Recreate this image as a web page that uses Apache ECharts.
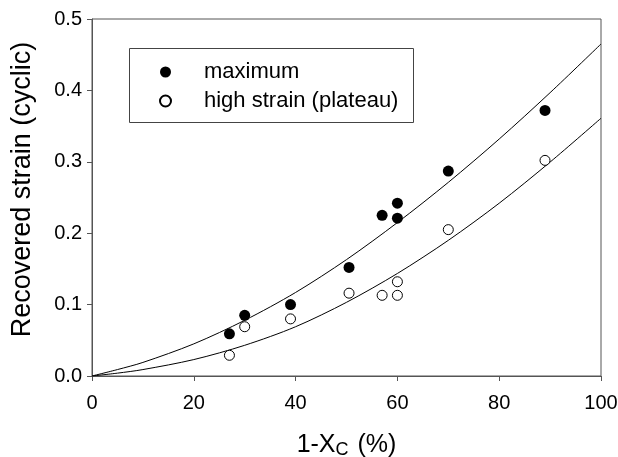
<!DOCTYPE html>
<html>
<head>
<meta charset="utf-8">
<script src="https://cdn.jsdelivr.net/npm/echarts@6/dist/echarts.min.js"></script>
<style>
  html, body { margin: 0; padding: 0; background: #fff; }
  #chart { width: 618px; height: 457px; }
</style>
</head>
<body>
<div id="chart"></div>
<script>
// Crystallinity deficit 1-Xc (%) for each specimen
const xcMax = [27, 30, 39, 50.5, 57, 60, 60, 70, 89];
// Recovered cyclic strain at the maximum
const strainMax = [0.059, 0.085, 0.100, 0.152, 0.225, 0.242, 0.221, 0.287, 0.372];

const xcPlateau = [27, 30, 39, 50.5, 57, 60, 60, 70, 89];
// Recovered cyclic strain at high strain (plateau)
const strainPlateau = [0.029, 0.069, 0.080, 0.116, 0.113, 0.132, 0.113, 0.205, 0.302];

// Fitted trend curves, sampled along the x axis
const fitX = [0, 5, 10, 20, 30, 40, 50, 60, 70, 80, 90, 100];
const fitMax = [0, 0.009, 0.019, 0.045, 0.078, 0.117, 0.163, 0.2149, 0.2712, 0.3319, 0.3968, 0.465];
const fitPlateau = [0, 0.004, 0.009, 0.023, 0.043, 0.069, 0.1032, 0.1436, 0.190, 0.242, 0.2996, 0.361];

const xTicks = [0, 20, 40, 60, 80, 100];
const yTicks = [0.0, 0.1, 0.2, 0.3, 0.4, 0.5];

const zip = (a, b) => a.map((v, i) => [v, b[i]]);
const FONT = '"Liberation Sans", Arial, sans-serif';

const chart = echarts.init(document.getElementById('chart'), null, { renderer: 'canvas' });

chart.setOption({
  animation: false,
  backgroundColor: '#ffffff',
  textStyle: { fontFamily: FONT, color: '#000' },
  grid: {
    left: 92, right: 17, top: 19, bottom: 81,
    outerBoundsMode: 'none',
    containLabel: false,
    show: true, borderColor: '#555', borderWidth: 1
  },
  xAxis: {
    type: 'value',
    min: xTicks[0], max: xTicks[xTicks.length - 1], interval: 20,
    name: '1-X{sub|C} (%)',
    nameLocation: 'middle',
    nameGap: 56,
    nameTextStyle: {
      fontFamily: FONT, fontSize: 25, color: '#000',
      rich: { sub: { fontFamily: FONT, fontSize: 18, color: '#000', padding: [9, 2, 0, 0] } }
    },
    axisLine: { show: true, lineStyle: { color: '#555', width: 1 } },
    axisTick: { show: true, inside: false, length: 5, lineStyle: { color: '#555' } },
    axisLabel: { fontFamily: FONT, fontSize: 20, color: '#000', margin: 17 },
    splitLine: { show: false }
  },
  yAxis: {
    type: 'value',
    min: yTicks[0], max: yTicks[yTicks.length - 1], interval: 0.1,
    name: 'Recovered strain (cyclic)',
    nameLocation: 'middle',
    nameGap: 56,
    nameTextStyle: { fontFamily: FONT, fontSize: 27, color: '#000', padding: [0, 0, 0, 16] },
    axisLine: { show: true, lineStyle: { color: '#555', width: 1 } },
    axisTick: { show: true, inside: false, length: 5, lineStyle: { color: '#555' } },
    axisLabel: { fontFamily: FONT, fontSize: 20, color: '#000', margin: 10,
      formatter: v => v.toFixed(1) },
    splitLine: { show: false }
  },
  legend: {
    data: ['maximum', 'high strain (plateau)'],
    orient: 'vertical',
    left: 159, top: 61,
    itemWidth: 11, itemHeight: 11,
    itemGap: 7,
    padding: 0,
    textStyle: { fontFamily: FONT, fontSize: 22, color: '#000', padding: [0, 0, 0, 28] }
  },
  graphic: [{
    type: 'rect',
    shape: { x: 129.5, y: 48.5, width: 284, height: 74 },
    style: { fill: 'none', stroke: '#444', lineWidth: 1 },
    z: 10
  }],
  series: [
    {
      name: 'fit maximum', type: 'line', data: zip(fitX, fitMax),
      smooth: 0.3, showSymbol: false, silent: true,
      lineStyle: { color: '#000', width: 1 }, z: 2
    },
    {
      name: 'fit plateau', type: 'line', data: zip(fitX, fitPlateau),
      smooth: 0.3, showSymbol: false, silent: true,
      lineStyle: { color: '#000', width: 1 }, z: 2
    },
    {
      name: 'maximum', type: 'scatter', data: zip(xcMax, strainMax),
      symbol: 'circle', symbolSize: 11,
      itemStyle: { color: '#000', opacity: 1 }, z: 3
    },
    {
      name: 'high strain (plateau)', type: 'scatter', data: zip(xcPlateau, strainPlateau),
      symbol: 'circle', symbolSize: 10,
      itemStyle: { color: '#fff', borderColor: '#000', borderWidth: 1, opacity: 1 }, z: 4
    }
  ]
});
</script>
</body>
</html>
